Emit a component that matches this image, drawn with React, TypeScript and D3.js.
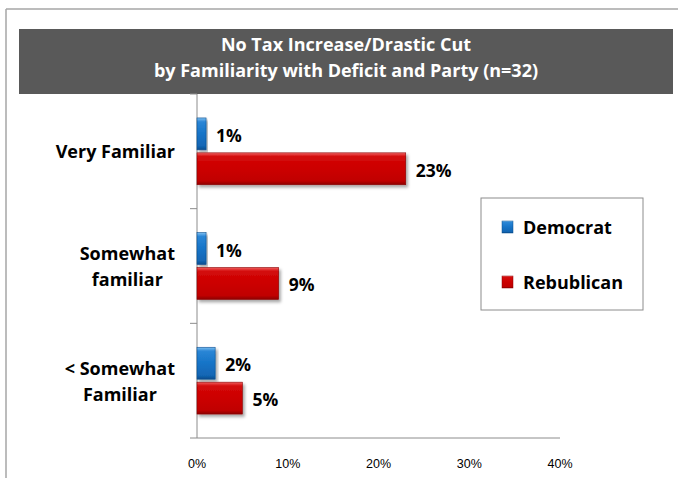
import React from "react";
import * as d3 from "d3";

const categories = [["Very Familiar"], ["Somewhat", "familiar"], ["< Somewhat", "Familiar"]];
const series = ["Democrat", "Rebublican"];
const democrat = [1, 1, 2];
const republican = [23, 9, 5];
const xTicks = [0, 10, 20, 30, 40];
const titleLines = ["No Tax Increase/Drastic Cut", "by Familiarity with Deficit and Party (n=32)"];

const W = 678;
const H = 478;
const FONT = "'Open Sans', Lato, sans-serif";

function measure(text: string, font: string): number {
  if (typeof document === "undefined") return text.length * 8;
  const c = document.createElement("canvas");
  const ctx = c.getContext("2d");
  if (!ctx) return text.length * 8;
  ctx.font = font;
  return ctx.measureText(text).width;
}

export default function App() {
  const plotTop = 94;
  const plotBottom = 438;
  const x0 = 197;
  const x1 = 560;

  const x = d3.scaleLinear().domain([0, 40]).range([x0, x1]);
  const y = d3
    .scaleBand<number>()
    .domain(d3.range(categories.length))
    .range([plotTop, plotBottom])
    .padding(0);
  const yInner = d3
    .scaleBand<string>()
    .domain(series)
    .range([0, y.bandwidth()])
    .paddingInner(0.086)
    .paddingOuter(0.686);

  const values = [democrat, republican];
  const fills = ["url(#gBlue)", "url(#gRed)"];
  const strokes = ["#0b4f8f", "#8a0000"];

  const catSize = 18;
  const catFont = `bold ${catSize}px 'Open Sans'`;

  return (
    <div style={{ position: "fixed", left: 0, top: 0 }}>
      <svg width={W} height={H} style={{ display: "block", background: "#fff" }}>
        <defs>
          <linearGradient id="gBlue" x1="0" y1="0" x2="0" y2="1">
            <stop offset="0" stopColor="#7fbff0" />
            <stop offset="0.12" stopColor="#2a86d6" />
            <stop offset="0.5" stopColor="#1674c7" />
            <stop offset="0.88" stopColor="#1266b4" />
            <stop offset="1" stopColor="#0a4c8c" />
          </linearGradient>
          <linearGradient id="gRed" x1="0" y1="0" x2="0" y2="1">
            <stop offset="0" stopColor="#f06060" />
            <stop offset="0.12" stopColor="#d30a0a" />
            <stop offset="0.5" stopColor="#cc0000" />
            <stop offset="0.88" stopColor="#c00000" />
            <stop offset="1" stopColor="#8c0000" />
          </linearGradient>
          <filter id="shadow" x="-10%" y="-20%" width="130%" height="160%">
            <feDropShadow dx="2" dy="2.5" stdDeviation="1.5" floodColor="#000" floodOpacity="0.35" />
          </filter>
        </defs>

        {/* outer frame */}
        <line x1={6} y1={9} x2={W} y2={9} stroke="#a6a6a6" strokeWidth={1.5} />
        <line x1={6} y1={9} x2={6} y2={H} stroke="#a6a6a6" strokeWidth={1.5} />

        {/* title box */}
        <rect x={19} y={29} width={654} height={65} fill="#595959" />
        {titleLines.map((t, i) => (
          <text
            key={i}
            x={346}
            y={51 + i * 26}
            textAnchor="middle"
            fill="#fff"
            fontFamily={FONT}
            fontWeight="bold"
            fontSize={18}
          >
            {t}
          </text>
        ))}

        {/* axes */}
        <line x1={x0} y1={plotTop} x2={x0} y2={plotBottom} stroke="#8c8c8c" strokeWidth={1} />
        <line x1={x0} y1={plotBottom} x2={x1} y2={plotBottom} stroke="#8c8c8c" strokeWidth={1} />
        {d3.range(categories.length + 1).map((i) => {
          const yy = i < categories.length ? (y(i) as number) : plotBottom;
          return <line key={i} x1={x0 - 7} x2={x0} y1={yy} y2={yy} stroke="#8c8c8c" strokeWidth={1} />;
        })}
        {xTicks.map((t) => (
          <text
            key={t}
            x={x(t)}
            y={468}
            textAnchor="middle"
            fontFamily="'Liberation Sans', Arial, sans-serif"
            fontSize={12.5}
            fill="#000"
          >
            {t}%
          </text>
        ))}

        {/* category labels */}
        {categories.map((lines, i) => {
          const blockW = Math.max(...lines.map((l) => measure(l, catFont)));
          const cx = 175 - blockW / 2;
          const cy = (y(i) as number) + y.bandwidth() / 2;
          const lh = 26;
          const start = cy - ((lines.length - 1) * lh) / 2 + 7;
          return (
            <text
              key={i}
              textAnchor="middle"
              fontFamily={FONT}
              fontWeight="bold"
              fontSize={catSize}
              fill="#000"
            >
              {lines.map((l, j) => (
                <tspan key={j} x={cx} y={start + j * lh}>
                  {l}
                </tspan>
              ))}
            </text>
          );
        })}

        {/* bars */}
        {categories.map((_, i) =>
          series.map((s, k) => {
            const v = values[k][i];
            const by = (y(i) as number) + (yInner(s) as number);
            const bh = yInner.bandwidth();
            return (
              <g key={`${i}-${k}`}>
                <rect
                  x={x(0)}
                  y={by}
                  width={x(v) - x(0)}
                  height={bh}
                  fill={fills[k]}
                  stroke={strokes[k]}
                  strokeWidth={0.6}
                  filter="url(#shadow)"
                />
                <text
                  x={x(v) + 10}
                  y={by + bh / 2 + 8}
                  fontFamily={FONT}
                  fontWeight="bold"
                  fontSize={17.5}
                  fill="#000"
                >
                  {v}%
                </text>
              </g>
            );
          })
        )}

        {/* legend */}
        <rect x={481} y={198} width={162} height={112} fill="#fff" stroke="#8c8c8c" strokeWidth={1} />
        {series.map((s, k) => (
          <g key={s}>
            <rect
              x={502}
              y={221 + k * 55}
              width={11}
              height={12}
              fill={fills[k]}
              stroke={strokes[k]}
              strokeWidth={0.5}
            />
            <text
              x={523}
              y={234 + k * 55}
              fontFamily={FONT}
              fontWeight="bold"
              fontSize={18}
              fill="#000"
            >
              {s}
            </text>
          </g>
        ))}
      </svg>
    </div>
  );
}
